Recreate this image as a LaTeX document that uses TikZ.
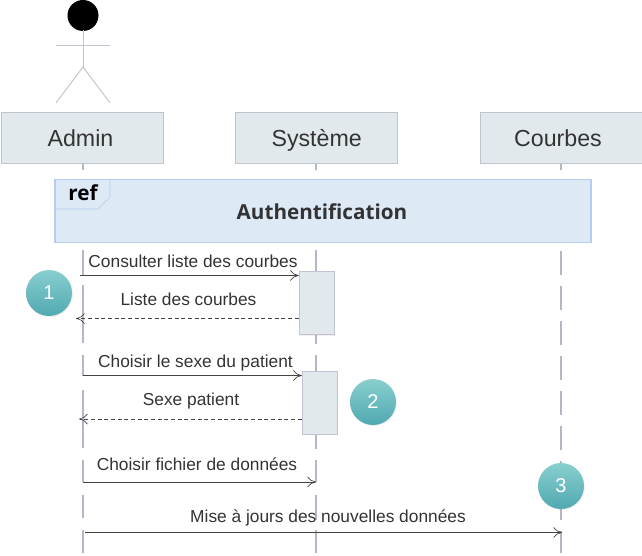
\documentclass[tikz,border=0pt]{standalone}
\usepackage{fontspec}
\setmainfont{Liberation Sans}
\newfontfamily\reffont{Open Sans}
\usetikzlibrary{calc,positioning,arrows.meta,shadows}
\definecolor{boxfill}{HTML}{E2E9ED}
\definecolor{boxline}{HTML}{BFC4D0}
\definecolor{lifeline}{HTML}{B4B8C4}
\definecolor{reffill}{HTML}{DEE9F6}
\definecolor{refline}{HTML}{B5CDEE}
\definecolor{labeltext}{HTML}{333333}
\definecolor{msgline}{HTML}{444444}
\definecolor{tealtop}{HTML}{88CFCE}
\definecolor{tealbot}{HTML}{50A9B1}
\tikzset{
	head/.style={draw=boxline, fill=boxfill, text=labeltext, minimum width=121.3pt, minimum height=38.2pt, inner sep=0pt, text height=14.6pt, text depth=1.4pt, font=\fontsize{17.4}{20}\selectfont},
	activation/.style={draw=boxline, fill=boxfill, minimum width=26.2pt, minimum height=47.2pt, inner sep=0pt, drop shadow={opacity=0.12, shadow xshift=0.8pt, shadow yshift=-0.8pt}},
	msg/.style={text=labeltext, font=\fontsize{13}{15}\selectfont, inner sep=0pt, text height=10.8pt, text depth=1.2pt},
	call/.style={draw=msgline, line width=0.55pt, -{To[length=6.5pt,width=8pt]}},
	reply/.style={call, densely dashed, line width=0.45pt},
	life/.style={draw=lifeline, line width=1.1pt},
	stepmark/.style={circle, minimum size=34.5pt, inner sep=0pt, top color=tealtop, bottom color=tealbot, text=white, font=\fontsize{15}{16}\selectfont, drop shadow={opacity=0.12, shadow xshift=0.8pt, shadow yshift=-0.8pt}},
	limb/.style={draw=boxline, line width=0.7pt}
}
\begin{document}
\begin{tikzpicture}[x=0.75pt,y=-0.75pt]
	\useasboundingbox (0,0) rectangle (642,556);

	%lifelines
	\def\adminX{83}
	\def\systemX{316}
	\def\courbesX{561}

	\foreach \from/\to in {163/170,250/276,285/343,355/376,390/448,460/482,495/518,530/553}
		\draw[life] (\adminX,\from) -- (\adminX,\to);
	\foreach \from/\to in {163/170,250/272,334/344,355/372,434/449,460/482,495/520,530/553}
		\draw[life] (\systemX,\from) -- (\systemX,\to);
	\foreach \from/\to in {163/170,251/275,286/310,321/345,356/380,391/415,426/450,461/470,500/520,531/553}
		\draw[life] (\courbesX,\from) -- (\courbesX,\to);

	%actor
	\fill[black] (83,15.5) circle[radius=15.5];
	\draw[limb] (83,30) -- (83,67);
	\draw[limb] (56,45) -- (110,45);
	\draw[limb] (56,103) -- (83,67) -- (110,103);

	%heads
	\node[head] (admin) at (82.5,138) {Admin\kern3pt};
	\node[head] (systeme) at (316,138) {\hspace{1pt}Système};
	\node[head] (courbes) at (561,138) {Courbes\kern4.5pt};

	%ref frame
	\node[draw=refline, fill=reffill, line width=0.8pt, minimum width=402pt, minimum height=47.2pt, inner sep=0pt] (frame) at (323,211) {};
	\node[text=labeltext, font=\reffont\bfseries\fontsize{15.5}{18}\selectfont, inner sep=0pt] (authent) at (322,212) {Authentification};
	\draw[draw=refline, line width=0.5pt] (55,209) -- (98,209) -- (110,197) -- (110,180);
	\node[text=black, font=\reffont\bfseries\fontsize{15.5}{18}\selectfont, inner sep=0pt] (reflabel) at (83,193) {ref};

	%activations
	\node[activation] (actA) at (316.5,303) {};
	\node[activation] (actB) at (319.5,402.5) {};

	%end points
	\coordinate (consA) at (80,275.5);
	\coordinate (consB) at (actA.west |- consA);
	\coordinate (listA) at (actA.west |- 0,318.5);
	\coordinate (listB) at (76,318.5);
	\coordinate (choiA) at (83,375.5);
	\coordinate (choiB) at (actB.west |- choiA);
	\coordinate (sexeA) at (actB.west |- 0,419);
	\coordinate (sexeB) at (79,419);
	\coordinate (fichA) at (83,482);
	\coordinate (fichB) at (316,482);
	\coordinate (miseA) at (85,532.5);
	\coordinate (miseB) at (562,532.5);

	%messages
	\draw[call] (consA) -- (consB);
	\draw[reply] (listA) -- (listB);
	\draw[call] (choiA) -- (choiB);
	\draw[reply] (sexeA) -- (sexeB);
	\draw[call] (fichA) -- (fichB);
	\draw[call] (miseA) -- (miseB);

	\node[msg] (consT) at (193,261) {Consulter liste des courbes};
	\node[msg] (listT) at (188.5,299.5) {Liste des courbes};
	\node[msg] (choiT) at (195.5,361) {Choisir le sexe du patient};
	\node[msg] (sexeT) at (191,399.5) {Sexe patient};
	\node[msg] (fichT) at (197,464) {Choisir fichier de données};
	\node[msg] (miseT) at (328,516) {Mise à jours des nouvelles données};

	%step marks
	\node[stepmark] (one) at (49,293) {1};
	\node[stepmark] (two) at (373,402) {2};
	\node[stepmark] (three) at (561,486) {3};

\end{tikzpicture}
\end{document}
